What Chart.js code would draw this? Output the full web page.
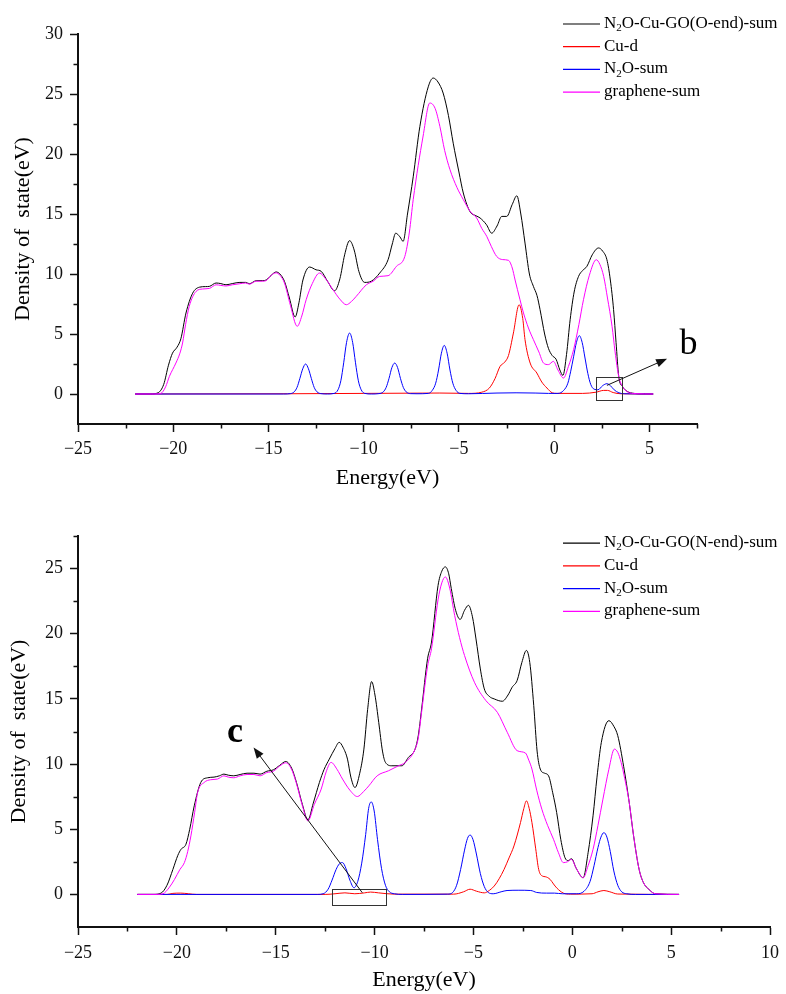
<!DOCTYPE html>
<html><head><meta charset="utf-8">
<script src="https://cdn.jsdelivr.net/npm/chart.js@4.4.1/dist/chart.umd.min.js"></script>
<style>
html,body{margin:0;padding:0;background:#fff;}
#wrap{position:relative;width:786px;height:994px;background:#fff;}
canvas{position:absolute;left:0;}
#c1{top:0;}
#c2{top:497px;}
</style></head><body>
<div id="wrap"><canvas id="c1" width="786" height="497"></canvas><canvas id="c2" width="786" height="497"></canvas></div>
<script>
// ---------------- DATA ----------------
const topLabels = ['N₂O-Cu-GO(O-end)-sum', 'Cu-d', 'N₂O-sum', 'graphene-sum'];
const bottomLabels = ['N₂O-Cu-GO(N-end)-sum', 'Cu-d', 'N₂O-sum', 'graphene-sum'];

// top panel (O-end): [energy eV, DOS]
const topTotal = [[-22,0],[-21.2,0],[-20.8,0.1],[-20.5,0.8],[-20.25,2.4],[-20.04,3.4],[-19.8,3.9],[-19.6,4.6],[-19.33,6.75],[-18.98,8.4],[-18.63,8.9],[-18.3,8.95],[-18.1,8.97],[-17.75,9.25],[-17.5,9.2],[-17.23,9.1],[-16.9,9.2],[-16.5,9.3],[-16.2,9.3],[-16.0,9.19],[-15.65,9.44],[-15.3,9.45],[-15.12,9.5],[-14.85,9.9],[-14.6,10.17],[-14.4,10.0],[-14.16,9.39],[-13.9,8.0],[-13.6,6.42],[-13.4,7.6],[-13.19,9.5],[-12.84,10.58],[-12.5,10.35],[-12.23,10.22],[-11.9,9.4],[-11.53,8.6],[-11.25,9.6],[-11.0,11.6],[-10.74,12.78],[-10.5,12.0],[-10.25,10.2],[-9.95,9.3],[-9.6,9.4],[-9.16,10.08],[-8.72,11.19],[-8.5,12.5],[-8.32,13.4],[-8.1,13.1],[-7.93,12.72],[-7.7,15.0],[-7.4,18.1],[-7.05,22.3],[-6.61,25.6],[-6.35,26.33],[-6.1,26.0],[-5.83,25.08],[-5.55,23.2],[-5.3,20.9],[-5.0,18.5],[-4.77,16.75],[-4.42,15.2],[-4.1,14.85],[-3.89,14.67],[-3.55,14.1],[-3.28,13.4],[-3.0,14.0],[-2.75,14.8],[-2.49,14.8],[-2.2,15.8],[-1.96,16.52],[-1.75,15.0],[-1.53,12.58],[-1.3,10.0],[-1.09,8.97],[-0.9,8.2],[-0.74,7.03],[-0.5,5.0],[-0.3,3.8],[-0.1,3.2],[0.1,2.9],[0.3,2.0],[0.46,1.55],[0.65,3.3],[0.84,6.19],[1.05,8.5],[1.28,9.8],[1.5,10.3],[1.72,10.64],[2.0,11.6],[2.33,12.17],[2.55,11.9],[2.77,11.19],[2.95,9.5],[3.12,7.03],[3.25,4.3],[3.39,1.47],[3.6,0.6],[3.83,0.22],[4.2,0.05],[4.6,0.01],[5.2,0]];
const topCuD = [[-22,0],[-14,0.02],[-10,0.05],[-6,0.08],[-4.5,0.05],[-3.8,0.15],[-3.4,0.5],[-3.1,1.3],[-2.84,2.3],[-2.6,2.65],[-2.4,3.2],[-2.14,5.08],[-1.84,7.44],[-1.65,6.3],[-1.53,4.53],[-1.26,2.58],[-0.91,1.75],[-0.65,1.0],[-0.38,0.5],[-0.1,0.1],[0.14,0.05],[1.5,0.05],[2.2,0.15],[2.6,0.3],[2.8,0.3],[3.1,0.12],[3.5,0.02],[5.2,0]];
const topN2O = [[-22,0],[-14.2,0],[-13.85,0.03],[-13.65,0.18],[-13.5,0.55],[-13.35,1.3],[-13.2,2.1],[-13.05,2.5],[-12.9,2.1],[-12.75,1.3],[-12.6,0.55],[-12.45,0.18],[-12.25,0.03],[-11.9,0],[-11.55,0.05],[-11.35,0.35],[-11.2,1.1],[-11.05,2.6],[-10.9,4.3],[-10.74,5.08],[-10.58,4.3],[-10.43,2.6],[-10.28,1.1],[-10.13,0.35],[-9.95,0.05],[-9.6,0],[-9.2,0.03],[-8.97,0.18],[-8.82,0.55],[-8.67,1.3],[-8.52,2.2],[-8.37,2.58],[-8.22,2.2],[-8.07,1.3],[-7.92,0.55],[-7.77,0.18],[-7.55,0.03],[-7.2,0.02],[-6.6,0.05],[-6.4,0.3],[-6.22,0.9],[-6.07,2.0],[-5.92,3.4],[-5.77,4.05],[-5.62,3.4],[-5.47,2.0],[-5.32,0.9],[-5.15,0.3],[-4.95,0.05],[-4.5,0.02],[-3.0,0.08],[-2.0,0.1],[-1.0,0.08],[-0.3,0.05],[0.2,0.05],[0.5,0.3],[0.72,0.9],[0.87,1.9],[1.02,3.1],[1.17,4.3],[1.32,4.86],[1.47,4.3],[1.62,3.0],[1.77,1.7],[1.92,0.8],[2.1,0.4],[2.3,0.35],[2.55,0.7],[2.77,0.86],[2.95,0.7],[3.15,0.35],[3.4,0.1],[3.7,0.02],[5.2,0]];
const topGraphene = [[-22,0],[-21.0,0],[-20.65,0.05],[-20.4,0.6],[-20.2,1.47],[-19.86,2.58],[-19.65,3.4],[-19.51,4.25],[-19.35,5.8],[-19.16,7.3],[-18.8,8.55],[-18.46,8.75],[-18.1,8.8],[-17.75,9.1],[-17.5,9.05],[-17.23,9.0],[-16.9,9.1],[-16.5,9.19],[-16.2,9.25],[-16.0,9.15],[-15.65,9.4],[-15.3,9.4],[-15.12,9.45],[-14.85,9.9],[-14.6,10.1],[-14.4,9.9],[-14.16,9.25],[-13.85,7.4],[-13.49,5.64],[-13.25,6.5],[-13.02,7.86],[-12.7,9.2],[-12.32,10.08],[-12.0,9.6],[-11.61,8.69],[-11.25,7.9],[-10.91,7.44],[-10.65,7.7],[-10.39,8.14],[-9.86,9.1],[-9.5,9.4],[-9.16,9.8],[-8.72,9.86],[-8.28,10.64],[-7.84,11.47],[-7.6,13.5],[-7.4,16.2],[-6.88,21.5],[-6.53,24.25],[-6.25,23.8],[-6.0,22.3],[-5.75,20.3],[-5.47,18.7],[-5.1,17.2],[-4.77,16.2],[-4.4,15.2],[-4.07,14.67],[-3.8,13.8],[-3.54,13.14],[-3.3,12.3],[-3.02,11.47],[-2.7,11.2],[-2.4,11.14],[-2.2,10.5],[-2.05,9.5],[-1.8,7.9],[-1.61,6.75],[-1.35,5.5],[-1.09,4.53],[-0.8,3.5],[-0.56,2.58],[-0.3,2.45],[-0.04,2.72],[0.2,2.0],[0.49,1.33],[0.75,2.3],[1.02,3.69],[1.3,5.8],[1.54,7.86],[1.85,9.9],[2.21,11.19],[2.4,10.8],[2.6,9.8],[2.8,8.0],[3.04,5.64],[3.2,3.5],[3.39,1.47],[3.6,0.6],[3.83,0.2],[4.3,0.03],[5.2,0]];

// bottom panel (N-end)
const botTotal = [[-22,0],[-21.2,0],[-20.8,0.1],[-20.5,0.7],[-20.2,1.92],[-19.95,3.0],[-19.79,3.46],[-19.54,3.85],[-19.35,5.0],[-19.12,6.8],[-18.79,8.59],[-18.45,8.95],[-18.12,9.0],[-17.85,9.1],[-17.62,9.23],[-17.4,9.15],[-17.12,9.1],[-16.8,9.2],[-16.45,9.3],[-16.1,9.3],[-15.79,9.23],[-15.45,9.45],[-15.12,9.56],[-14.8,9.9],[-14.49,10.2],[-14.2,9.7],[-13.95,8.59],[-13.65,6.9],[-13.37,5.72],[-13.1,7.0],[-12.79,8.59],[-12.55,9.6],[-12.29,10.38],[-12.0,11.2],[-11.79,11.67],[-11.6,11.3],[-11.37,10.38],[-11.2,9.0],[-10.99,8.2],[-10.75,9.3],[-10.54,11.15],[-10.35,14.2],[-10.15,16.33],[-9.98,15.3],[-9.79,13.2],[-9.6,11.0],[-9.45,10.13],[-9.12,9.87],[-8.62,9.87],[-8.29,10.51],[-7.95,11.15],[-7.79,12.18],[-7.62,14.23],[-7.32,18.08],[-7.12,19.36],[-6.79,23.7],[-6.6,24.8],[-6.42,25.13],[-6.25,24.6],[-6.12,23.46],[-5.9,21.8],[-5.67,21.1],[-5.45,21.8],[-5.25,22.18],[-5.05,21.3],[-4.87,19.6],[-4.65,17.3],[-4.45,15.77],[-4.2,15.2],[-3.95,15.0],[-3.54,14.82],[-3.25,15.3],[-3.04,15.9],[-2.79,16.41],[-2.55,17.8],[-2.32,18.72],[-2.15,17.8],[-1.95,14.5],[-1.78,11.0],[-1.62,9.62],[-1.4,9.3],[-1.2,9.1],[-0.99,7.8],[-0.79,6.28],[-0.58,4.2],[-0.37,2.82],[-0.2,2.6],[-0.04,2.74],[0.2,2.0],[0.55,1.28],[0.8,3.2],[1.05,6.03],[1.25,9.0],[1.47,11.67],[1.85,13.33],[2.1,12.9],[2.3,12.18],[2.6,9.8],[2.88,7.05],[3.1,4.5],[3.38,1.92],[3.6,0.9],[3.88,0.38],[4.2,0.05],[5.4,0]];
const botCuD = [[-22,0],[-20.5,0],[-20.2,0.08],[-19.8,0.1],[-19.4,0.05],[-19.0,0],[-12.5,0],[-12.0,0.05],[-11.5,0.12],[-11.0,0.05],[-10.5,0.12],[-10.2,0.18],[-9.8,0.12],[-9.0,0.02],[-6.0,0.02],[-5.5,0.2],[-5.17,0.4],[-4.85,0.25],[-4.45,0.12],[-4.2,0.3],[-3.95,0.64],[-3.7,1.2],[-3.45,1.92],[-3.2,2.8],[-2.95,3.72],[-2.62,5.51],[-2.45,6.6],[-2.32,7.18],[-2.18,6.6],[-2.04,5.51],[-1.85,3.5],[-1.7,1.92],[-1.5,1.4],[-1.37,1.36],[-1.12,1.15],[-0.95,0.8],[-0.79,0.5],[-0.45,0.1],[-0.1,0.02],[1.0,0.05],[1.3,0.2],[1.6,0.3],[1.9,0.2],[2.3,0.03],[5.4,0]];
const botN2O = [[-22,0],[-12.9,0],[-12.6,0.05],[-12.35,0.4],[-12.15,1.1],[-11.95,1.9],[-11.78,2.35],[-11.62,2.44],[-11.45,2.0],[-11.25,1.1],[-11.04,0.51],[-10.85,1.0],[-10.65,2.4],[-10.45,4.6],[-10.3,6.6],[-10.17,7.1],[-10.02,6.4],[-9.85,4.2],[-9.65,2.0],[-9.45,0.7],[-9.25,0.2],[-9.0,0.05],[-8.6,0],[-6.3,0.02],[-6.05,0.15],[-5.85,0.7],[-5.65,1.9],[-5.45,3.4],[-5.3,4.3],[-5.17,4.56],[-5.02,4.2],[-4.85,3.1],[-4.65,1.6],[-4.45,0.6],[-4.25,0.15],[-4.0,0.05],[-3.6,0.2],[-3.3,0.3],[-2.7,0.32],[-2.1,0.3],[-1.8,0.15],[-1.3,0.1],[-0.9,0.1],[-0.5,0.05],[0.2,0.05],[0.6,0.25],[0.9,1.0],[1.1,2.2],[1.3,3.6],[1.45,4.4],[1.6,4.74],[1.75,4.4],[1.92,3.3],[2.1,1.8],[2.3,0.7],[2.5,0.2],[2.75,0.05],[3.2,0],[5.4,0]];
const botGraphene = [[-22,0],[-21.0,0],[-20.7,0.05],[-20.4,0.5],[-20.12,1.15],[-19.85,1.9],[-19.62,2.44],[-19.45,3.3],[-19.29,4.49],[-19.1,6.3],[-18.95,7.82],[-18.62,8.59],[-18.29,8.8],[-17.95,8.85],[-17.62,9.1],[-17.4,9.0],[-17.12,8.95],[-16.8,9.1],[-16.45,9.2],[-16.1,9.2],[-15.79,9.1],[-15.45,9.35],[-15.12,9.45],[-14.8,9.85],[-14.49,10.1],[-14.2,9.6],[-13.95,8.5],[-13.65,6.8],[-13.37,5.64],[-13.05,6.9],[-12.7,8.08],[-12.45,9.4],[-12.2,10.13],[-11.9,9.6],[-11.62,8.85],[-11.25,8.0],[-10.87,7.51],[-10.55,7.9],[-10.29,8.33],[-9.87,9.1],[-9.29,9.49],[-8.79,9.87],[-8.45,10.13],[-7.95,11.15],[-7.79,12.0],[-7.62,14.0],[-7.32,17.5],[-7.12,18.85],[-6.79,22.6],[-6.6,23.9],[-6.42,24.36],[-6.2,23.5],[-5.95,21.41],[-5.7,19.7],[-5.45,18.33],[-4.95,16.28],[-4.37,14.87],[-3.79,13.97],[-3.29,12.44],[-2.79,11.03],[-2.37,10.85],[-2.2,10.3],[-2.04,9.62],[-1.8,8.0],[-1.54,6.54],[-1.25,5.3],[-0.95,4.23],[-0.7,3.2],[-0.45,2.44],[-0.25,2.5],[-0.04,2.69],[0.2,2.0],[0.55,1.28],[0.8,2.2],[1.05,3.46],[1.3,5.3],[1.55,7.31],[1.85,9.6],[2.13,11.15],[2.3,10.9],[2.47,10.13],[2.65,8.9],[2.88,7.05],[3.1,4.5],[3.38,1.92],[3.6,0.9],[3.88,0.38],[4.2,0.05],[5.4,0]];

// ticks
const topXTicks = [-25, -20, -15, -10, -5, 0, 5];
const topXTickLabels = ['−25', '−20', '−15', '−10', '−5', '0', '5'];
const topXMinor = [-22.5, -17.5, -12.5, -7.5, -2.5, 2.5, 7.5];
const topYTicks = [0, 5, 10, 15, 20, 25, 30];
const topYTickLabels = ['0', '5', '10', '15', '20', '25', '30'];
const topYMinor = [2.5, 7.5, 12.5, 17.5, 22.5, 27.5];
const botXTicks = [-25, -20, -15, -10, -5, 0, 5, 10];
const botXTickLabels = ['−25', '−20', '−15', '−10', '−5', '0', '5', '10'];
const botXMinor = [-22.5, -17.5, -12.5, -7.5, -2.5, 2.5, 7.5];
const botYTicks = [0, 5, 10, 15, 20, 25];
const botYTickLabels = ['0', '5', '10', '15', '20', '25'];
const botYMinor = [2.5, 7.5, 12.5, 17.5, 22.5, 27.5];

// annotations (data units)
const topBox = [2.21, 3.56, -0.5, 1.42];        // x1, x2, y1, y2
const topArrow = [2.77, 0.72, 5.93, 2.94];      // from x,y to x,y
const topLetter = ['b', 7.05, 4.1];
const botBox = [-12.15, -9.42, -0.79, 0.44];
const botArrow = [-10.62, 0.13, -16.12, 11.28];
const botLetter = ['c', -17.06, 12.4];

// ---------------- STYLE ----------------
const SERIF = '"Liberation Serif", "Times New Roman", serif';
const seriesColors = ['#000000', '#ff0000', '#0000ff', '#ff00ff'];
const seriesOrder = [4, 3, 2, 1];

function drawRich(ctx, text, x, y, size) {
  // draws text, rendering '₂' as a lowered smaller 2
  const parts = text.split('₂');
  let cx = x;
  parts.forEach((p, i) => {
    ctx.font = size + 'px ' + SERIF;
    ctx.fillText(p, cx, y);
    cx += ctx.measureText(p).width;
    if (i < parts.length - 1) {
      ctx.font = Math.round(size * 0.65) + 'px ' + SERIF;
      ctx.fillText('2', cx, y + size * 0.28);
      cx += ctx.measureText('2').width;
    }
  });
}

const decor = {
  id: 'decor',
  afterDraw(chart, args, o) {
    const ctx = chart.ctx;
    const xs = chart.scales.x, ys = chart.scales.y;
    ctx.save();
    // minor ticks
    ctx.strokeStyle = '#111';
    ctx.lineWidth = 1.5;
    ctx.beginPath();
    o.xMinor.forEach(v => {
      const px = Math.round(xs.getPixelForValue(v)) + 0.5;
      ctx.moveTo(px, xs.top); ctx.lineTo(px, xs.top + 4.5);
    });
    o.yMinor.forEach(v => {
      const py = Math.round(ys.getPixelForValue(v)) + 0.5;
      ctx.moveTo(ys.right, py); ctx.lineTo(ys.right - 4.5, py);
    });
    ctx.stroke();
    // box
    const b = o.box;
    const bx1 = xs.getPixelForValue(b[0]), bx2 = xs.getPixelForValue(b[1]);
    const by1 = ys.getPixelForValue(b[2]), by2 = ys.getPixelForValue(b[3]);
    ctx.strokeStyle = '#333';
    ctx.lineWidth = 1;
    ctx.strokeRect(Math.round(bx1) + 0.5, Math.round(by2) + 0.5, Math.round(bx2 - bx1), Math.round(by1 - by2));
    // arrow
    const a = o.arrow;
    const ax1 = xs.getPixelForValue(a[0]), ay1 = ys.getPixelForValue(a[1]);
    const ax2 = xs.getPixelForValue(a[2]), ay2 = ys.getPixelForValue(a[3]);
    const ang = Math.atan2(ay2 - ay1, ax2 - ax1);
    const hl = 11, hw = 4.2;
    ctx.strokeStyle = '#111';
    ctx.beginPath();
    ctx.moveTo(ax1, ay1);
    ctx.lineTo(ax2 - Math.cos(ang) * hl * 0.8, ay2 - Math.sin(ang) * hl * 0.8);
    ctx.stroke();
    ctx.fillStyle = '#111';
    ctx.beginPath();
    ctx.moveTo(ax2, ay2);
    ctx.lineTo(ax2 - Math.cos(ang) * hl - Math.sin(ang) * hw, ay2 - Math.sin(ang) * hl + Math.cos(ang) * hw);
    ctx.lineTo(ax2 - Math.cos(ang) * hl + Math.sin(ang) * hw, ay2 - Math.sin(ang) * hl - Math.cos(ang) * hw);
    ctx.closePath();
    ctx.fill();
    // letter
    const L = o.letter;
    ctx.fillStyle = '#000';
    ctx.font = o.letterWeight + ' 36px ' + SERIF;
    ctx.textAlign = 'center';
    ctx.textBaseline = 'middle';
    ctx.fillText(L[0], xs.getPixelForValue(L[1]), ys.getPixelForValue(L[2]));
    // legend
    ctx.textAlign = 'left';
    ctx.textBaseline = 'middle';
    chart.data.datasets.forEach((ds, i) => {
      const yy = o.legendY + i * o.legendGap;
      ctx.strokeStyle = ds.borderColor;
      ctx.lineWidth = 1.2;
      ctx.beginPath();
      ctx.moveTo(o.legendX, yy + 0.5);
      ctx.lineTo(o.legendX + 37, yy + 0.5);
      ctx.stroke();
      ctx.fillStyle = '#000';
      drawRich(ctx, ds.label, o.legendX + 41, yy, 17);
    });
    ctx.restore();
  }
};

function makeChart(id, p) {
  const datasets = p.series.map((s, i) => ({
    label: p.labels[i],
    data: s.map(pt => ({x: pt[0], y: pt[1]})),
    borderColor: seriesColors[i],
    borderWidth: 1,
    pointRadius: 0,
    fill: false,
    cubicInterpolationMode: 'monotone',
    order: seriesOrder[i]
  }));
  return new Chart(document.getElementById(id), {
    type: 'line',
    data: {datasets},
    plugins: [decor],
    options: {
      responsive: false,
      animation: false,
      devicePixelRatio: 1,
      events: [],
      layout: {padding: {top: p.padTop, right: p.padRight, left: 0, bottom: 0}},
      plugins: {
        legend: {display: false},
        tooltip: {enabled: false},
        decor: p.decor
      },
      scales: {
        x: {
          type: 'linear',
          min: p.xMin, max: p.xMax,
          afterBuildTicks: s => { s.ticks = p.xTicks.map(v => ({value: v})); },
          afterFit: s => { s.height = p.xAxisH; },
          ticks: {
            callback: (v, i) => p.xTickLabels[i],
            autoSkip: false, maxRotation: 0, minRotation: 0,
            padding: p.xTickPad, color: '#111',
            font: {family: SERIF, size: 18}
          },
          grid: {display: true, drawOnChartArea: false, drawTicks: true, tickLength: 8, tickWidth: 1.5, tickColor: '#111'},
          border: {display: true, color: '#111', width: 2},
          title: {display: true, text: 'Energy(eV)', color: '#000', font: {family: SERIF, size: 22}, padding: {top: 0, bottom: p.xTitlePad}}
        },
        y: {
          type: 'linear',
          min: p.yMin, max: p.yMax,
          afterBuildTicks: s => { s.ticks = p.yTicks.map(v => ({value: v})); },
          afterFit: s => { s.width = 78; },
          ticks: {
            callback: (v, i) => p.yTickLabels[i],
            autoSkip: false, padding: 7, color: '#111',
            font: {family: SERIF, size: 18}
          },
          grid: {display: true, drawOnChartArea: false, drawTicks: true, tickLength: 8, tickWidth: 1.5, tickColor: '#111'},
          border: {display: true, color: '#111', width: 2},
          title: {display: true, text: 'Density of  state(eV)', color: '#000', font: {family: SERIF, size: 22}, padding: {top: p.yTitlePad, bottom: 0}}
        }
      }
    }
  });
}

makeChart('c1', {
  labels: topLabels,
  series: [topTotal, topCuD, topN2O, topGraphene],
  xMin: -25, xMax: 7.5, yMin: -2.5, yMax: 30,
  xTicks: topXTicks, xTickLabels: topXTickLabels,
  yTicks: topYTicks, yTickLabels: topYTickLabels,
  padTop: 34, padRight: 89, xAxisH: 73, xTickPad: 6, xTitlePad: 6, yTitlePad: 10,
  decor: {xMinor: topXMinor, yMinor: topYMinor, box: topBox, arrow: topArrow, letter: topLetter, letterWeight: 'normal',
          legendX: 563, legendY: 23.5, legendGap: 22.7}
});

makeChart('c2', {
  labels: bottomLabels,
  series: [botTotal, botCuD, botN2O, botGraphene],
  xMin: -25, xMax: 10, yMin: -2.5, yMax: 27.5,
  xTicks: botXTicks, xTickLabels: botXTickLabels,
  yTicks: botYTicks, yTickLabels: botYTickLabels,
  padTop: 39, padRight: 11, xAxisH: 67, xTickPad: 7, xTitlePad: 1, yTitlePad: 6,
  decor: {xMinor: botXMinor, yMinor: botYMinor, box: botBox, arrow: botArrow, letter: botLetter, letterWeight: 'bold',
          legendX: 563, legendY: 45.7, legendGap: 22.7}
});
</script>
</body></html>
